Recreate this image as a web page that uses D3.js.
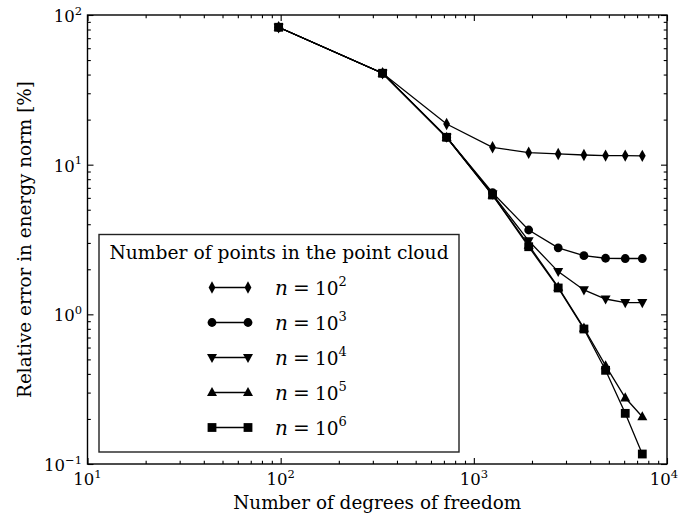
<!DOCTYPE html>
<html><head><meta charset="utf-8">
<script src="https://cdn.jsdelivr.net/npm/d3@7"></script>
<style>body{margin:0;background:#fff} text{font-family:"DejaVu Serif",serif;fill:#000}</style>
</head><body><svg id="c" width="679" height="518"></svg>
<script>
const dof = [97.6, 337, 723, 1250, 1923, 2734, 3715, 4809, 6079, 7450];
const err_n1e2 = [82.8, 40.8, 18.7, 13.06, 12.02, 11.79, 11.6, 11.5, 11.5, 11.45];
const err_n1e3 = [82.8, 40.8, 15.24, 6.5, 3.66, 2.78, 2.466, 2.37, 2.36, 2.36];
const err_n1e4 = [82.8, 40.8, 15.24, 6.35, 3.1, 1.93, 1.455, 1.266, 1.197, 1.197];
const err_n1e5 = [82.8, 40.8, 15.24, 6.27, 2.9, 1.52, 0.81, 0.454, 0.277, 0.207];
const err_n1e6 = [82.8, 40.8, 15.24, 6.27, 2.83, 1.50, 0.798, 0.4226, 0.218, 0.1166];
const seriesNames = ["2", "3", "4", "5", "6"];
const seriesMarkers = ["diamond", "circle", "tridown", "triup", "square"];
const xMajor = [1, 2, 3, 4];
const yMajor = [-1, 0, 1, 2];
const legendTitle = "Number of points in the point cloud";
const xLabel = "Number of degrees of freedom";
const yLabel = "Relative error in energy norm [%]";

const series = [err_n1e2, err_n1e3, err_n1e4, err_n1e5, err_n1e6];
const W = 679;
const svg = d3.select("#c");
const L = 87.5, R = 667, T = 15, B = 464;
const x = d3.scaleLog().domain([10, 1e4]).range([L, R]);
const y = d3.scaleLog().domain([0.1, 100]).range([B, T]);

function minors(lo, hi) {
  const out = [];
  for (let e = lo; e < hi; e++) for (let m = 2; m <= 9; m++) out.push(m * Math.pow(10, e));
  return out;
}
const xMin = minors(1, 4), yMin = minors(-1, 2);
const xMaj = xMajor.map(e => Math.pow(10, e)), yMaj = yMajor.map(e => Math.pow(10, e));

function styleAxis(g) {
  g.select(".domain").remove();
  g.selectAll("line").attr("stroke", "#000").attr("stroke-width", 1.1);
}
const axes = [
  [() => d3.axisBottom(x), `translate(0,${B})`, xMaj, xMin],
  [() => d3.axisTop(x), `translate(0,${T})`, xMaj, xMin],
  [() => d3.axisLeft(y), `translate(${L},0)`, yMaj, yMin],
  [() => d3.axisRight(y), `translate(${R},0)`, yMaj, yMin]
];
axes.forEach(([mk, tr, maj, mn]) => {
  svg.append("g").attr("transform", tr)
    .call(mk().tickValues(maj).tickSize(-6).tickFormat(""))
    .call(styleAxis);
  svg.append("g").attr("transform", tr)
    .call(mk().tickValues(mn).tickSize(-3.3).tickFormat(""))
    .call(styleAxis);
});

svg.append("rect").attr("x", L).attr("y", T).attr("width", R - L).attr("height", B - T)
  .attr("fill", "none").attr("stroke", "#000").attr("stroke-width", 1.4);

function sup(e) { return e < 0 ? "\u2212" + (-e) : String(e); }
xMajor.forEach(e => {
  const t = svg.append("text").attr("x", x(Math.pow(10, e))).attr("y", B + 21)
    .attr("text-anchor", "middle").attr("font-size", 16.5);
  t.append("tspan").text("10");
  t.append("tspan").attr("dy", -7.5).attr("font-size", 11.5).text(sup(e));
  // keep the label inside the page
  const bb = t.node().getBBox();
  const over = bb.x + bb.width - (W - 1);
  if (over > 0) t.attr("x", x(Math.pow(10, e)) - over);
});
yMajor.forEach(e => {
  const t = svg.append("text").attr("x", L - 5.5).attr("y", y(Math.pow(10, e)) + 7)
    .attr("text-anchor", "end").attr("font-size", 16.5);
  t.append("tspan").text("10");
  t.append("tspan").attr("dy", -7.5).attr("font-size", 11.5).text(sup(e));
});

svg.append("text").attr("x", (L + R) / 2).attr("y", 509).attr("text-anchor", "middle")
  .attr("font-size", 18.4).text(xLabel);
svg.append("text").attr("transform", `translate(31,${(T + B) / 2}) rotate(-90)`)
  .attr("text-anchor", "middle").attr("font-size", 18.4).text(yLabel);

function marker(g, type, cx, cy) {
  if (type === "circle") g.append("circle").attr("cx", cx).attr("cy", cy).attr("r", 4.4);
  else if (type === "square") g.append("rect").attr("x", cx - 4.4).attr("y", cy - 4.4).attr("width", 8.8).attr("height", 8.8);
  else if (type === "diamond") g.append("path").attr("d", `M${cx},${cy - 6.2}L${cx + 3.4},${cy}L${cx},${cy + 6.2}L${cx - 3.4},${cy}Z`);
  else if (type === "triup") g.append("path").attr("d", `M${cx},${cy - 5.5}L${cx + 5},${cy + 3.6}L${cx - 5},${cy + 3.6}Z`);
  else if (type === "tridown") g.append("path").attr("d", `M${cx},${cy + 5.5}L${cx + 5},${cy - 3.6}L${cx - 5},${cy - 3.6}Z`);
}

const line = d3.line().x(d => x(d[0])).y(d => y(d[1]));
series.forEach((vals, i) => {
  const pts = dof.map((d, j) => [d, vals[j]]);
  svg.append("path").attr("d", line(pts)).attr("fill", "none").attr("stroke", "#000").attr("stroke-width", 1.3);
  const g = svg.append("g").attr("fill", "#000");
  pts.forEach(p => marker(g, seriesMarkers[i], x(p[0]), y(p[1])));
});

const lg = svg.append("g");
lg.append("rect").attr("x", 99).attr("y", 234.5).attr("width", 360).attr("height", 217.5)
  .attr("fill", "#fff").attr("stroke", "#222").attr("stroke-width", 1.4);
lg.append("text").attr("x", 279).attr("y", 259).attr("text-anchor", "middle").attr("font-size", 18.7).text(legendTitle);
seriesNames.forEach((nm, i) => {
  const cy = 287.5 + i * 35;
  lg.append("line").attr("x1", 212).attr("x2", 248).attr("y1", cy).attr("y2", cy).attr("stroke", "#000").attr("stroke-width", 1.3);
  const g = lg.append("g").attr("fill", "#000");
  marker(g, seriesMarkers[i], 212, cy);
  marker(g, seriesMarkers[i], 248, cy);
  const by = cy + 7;
  lg.append("text").attr("x", 275).attr("y", by).attr("font-size", 20).attr("font-style", "italic").text("n");
  lg.append("text").attr("x", 301.5).attr("y", by).attr("font-size", 20).attr("text-anchor", "middle").text("=");
  const t = lg.append("text").attr("x", 315).attr("y", by).attr("font-size", 18.5);
  t.append("tspan").text("10");
  t.append("tspan").attr("dy", -9).attr("font-size", 13).text(nm);
});
</script></body></html>
